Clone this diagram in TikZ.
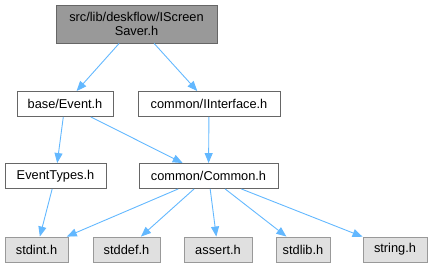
\documentclass[tikz,border=0pt]{standalone}
\usepackage{fontspec}
\setmainfont{Liberation Sans}
\usepackage{xcolor}
\usetikzlibrary{arrows.meta}
\definecolor{edgeblue}{HTML}{63B8FF}

\begin{document}
\begin{tikzpicture}[x=1pt,y=-1pt,font=\fontsize{12.8}{14}\selectfont,
  file/.style={draw=black!60,fill=white,line width=0.9pt,inner sep=0pt,minimum height=25pt},
  sys/.style={file,draw=black!40,fill=black!12},
  inc/.style={edgeblue,line width=0.9pt,-{Triangle[length=10pt,width=8pt]}}]
\useasboundingbox (0,0) rectangle (433,267);
% header being documented
\node[file,fill=black!40,minimum width=161pt,minimum height=38pt,align=center] (top) at (136.5,24) {src/lib/deskflow/IScreen\\Saver.h};
% project headers
\node[file,minimum width=96pt] (event) at (65,104) {base/Event.h};
\node[file,minimum width=142pt] (iface) at (209,104) {common/IInterface.h};
\node[file,minimum width=101pt] (etypes) at (55.5,176) {EventTypes.h};
\node[file,minimum width=139pt] (common) at (208.5,176) {common/Common.h};
% system headers
\foreach \n/\x/\w in {stdint/36.5/63,stddef/126.5/67,assert/218/68,stdlib/303/54,string/395/64}{
  \node[sys,minimum width=\w pt] (\n) at (\x,249.5) {\n.h};}
% include edges
\draw[inc] (top) -- (event);
\draw[inc] (top) -- (iface);
\draw[inc] (event) -- (etypes);
\draw[inc] (event) -- (common);
\draw[inc] (iface) -- (common);
\draw[inc] (etypes) -- (stdint);
\foreach \n in {stdint,stddef,assert,stdlib,string}{ \draw[inc] (common) -- (\n);}
\end{tikzpicture}
\end{document}
